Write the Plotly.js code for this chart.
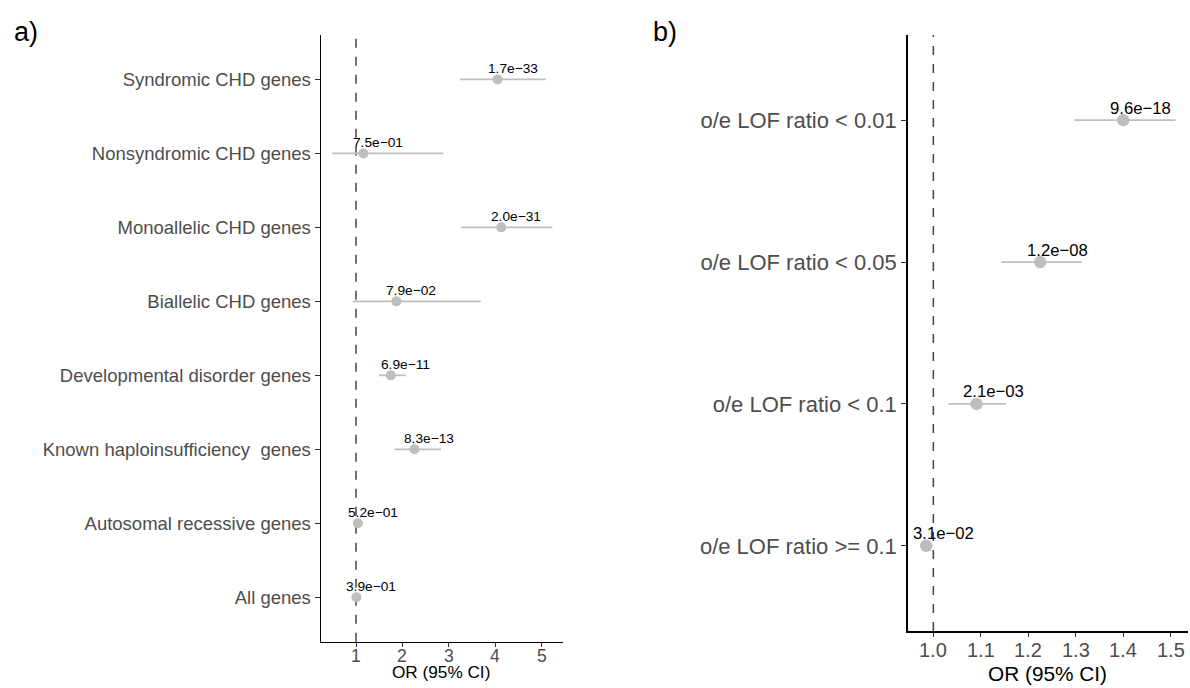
<!DOCTYPE html>
<html>
<head>
<meta charset="utf-8">
<script src="https://cdn.plot.ly/plotly-3.0.1.min.js"></script>
<style>html,body{margin:0;padding:0;background:#fff;}#chart{width:1190px;height:688px;}</style>
</head>
<body>
<div id="chart"></div>
<script>
// Panel a)
const catsA = ["Syndromic CHD genes", "Nonsyndromic CHD genes", "Monoallelic CHD genes", "Biallelic CHD genes",
  "Developmental disorder genes", "Known haploinsufficiency\u00a0 genes", "Autosomal recessive genes", "All genes"];
const orA = [4.05, 1.16, 4.13, 1.87, 1.75, 2.26, 1.04, 1.01];
const loA = [3.24, 0.49, 3.27, 0.93, 1.49, 1.83, 0.96, 0.97];
const hiA = [5.09, 2.88, 5.23, 3.69, 2.07, 2.83, 1.12, 1.05];
const pA = ["1.7e\u221233", "7.5e\u221201", "2.0e\u221231", "7.9e\u221202", "6.9e\u221211", "8.3e\u221213", "5.2e\u221201", "3.9e\u221201"];
const ticksA = [1, 2, 3, 4, 5];

// Panel b)
const catsB = ["o/e LOF ratio < 0.01", "o/e LOF ratio < 0.05", "o/e LOF ratio < 0.1", "o/e LOF ratio >= 0.1"];
const orB = [1.40, 1.225, 1.091, 0.985];
const loB = [1.297, 1.143, 1.032, 0.972];
const hiB = [1.51, 1.313, 1.153, 0.998];
const pB = ["9.6e\u221218", "1.2e\u221208", "2.1e\u221203", "3.1e\u221202"];
const ticksB = [1.0, 1.1, 1.2, 1.3, 1.4, 1.5];

const xTitle = "OR (95% CI)";

const FONT = "Liberation Sans, Arial, Helvetica, sans-serif";
const PT = "#bebebe";
const H = 688, W = 1190;

function trace(cats, or, lo, hi, xa, ya, size) {
  return {
    type: "scatter", mode: "markers", x: or, y: cats, xaxis: xa, yaxis: ya,
    marker: {color: PT, size: size},
    error_x: {type: "data", symmetric: false,
      array: hi.map((h, i) => h - or[i]), arrayminus: lo.map((l, i) => or[i] - l),
      width: 0, color: PT, thickness: 1.7},
    hoverinfo: "skip", showlegend: false, cliponaxis: false
  };
}

const annotations = [];
pA.forEach((t, i) => annotations.push({x: orA[i], y: i, xref: "x", yref: "y", text: t, showarrow: false,
  xshift: 15, yshift: 11, font: {family: FONT, size: 13.7, color: "#000"}}));
pB.forEach((t, i) => annotations.push({x: orB[i], y: i, xref: "x2", yref: "y2", text: t, showarrow: false,
  xshift: 17, yshift: 12, font: {family: FONT, size: 16.7, color: "#000"}}));
// x tick labels (placed as text at the tick values)
ticksA.forEach(v => annotations.push({x: v, xref: "x", yref: "paper", y: 1 - 656/H, yanchor: "middle",
  text: String(v), showarrow: false, font: {family: FONT, size: 17.5, color: "#4d4d4d"}}));
ticksB.forEach(v => annotations.push({x: v, xref: "x2", yref: "paper", y: 1 - 650/H, yanchor: "middle",
  text: v.toFixed(1), showarrow: false, font: {family: FONT, size: 20, color: "#4d4d4d"}}));
// panel letters
annotations.push({xref: "paper", yref: "paper", x: 12/W, y: 1 - 32/H, xanchor: "left", yanchor: "middle",
  text: "a)", showarrow: false, font: {family: FONT, size: 27, color: "#000"}});
annotations.push({xref: "paper", yref: "paper", x: 651/W, y: 1 - 32/H, xanchor: "left", yanchor: "middle",
  text: "b)", showarrow: false, font: {family: FONT, size: 27, color: "#000"}});
// axis titles
annotations.push({xref: "paper", yref: "paper", x: 441/W, y: 1 - 672/H, xanchor: "center", yanchor: "middle",
  text: xTitle, showarrow: false, font: {family: FONT, size: 17.2, color: "#000"}});
annotations.push({xref: "paper", yref: "paper", x: 1047/W, y: 1 - 673/H, xanchor: "center", yanchor: "middle",
  text: xTitle, showarrow: false, font: {family: FONT, size: 20.8, color: "#000"}});

const axBase = {showgrid: false, zeroline: false, showline: true, linecolor: "#000", linewidth: 1.5,
  ticks: "outside", ticklen: 4, tickwidth: 1, tickcolor: "#333", automargin: false, fixedrange: true};

const layout = {
  width: W, height: H, margin: {l: 0, r: 0, t: 0, b: 0},
  paper_bgcolor: "#fff", plot_bgcolor: "#fff", font: {family: FONT},
  xaxis: Object.assign({}, axBase, {domain: [321/W, 563/W], range: [0.246, 5.46], anchor: "y",
    tickmode: "array", tickvals: ticksA, showticklabels: false}),
  yaxis: Object.assign({}, axBase, {domain: [46.3/H, 653/H], anchor: "x", type: "category",
    categoryorder: "array", categoryarray: catsA, range: [7.6, -0.6], ticklen: 5,
    tickfont: {family: FONT, size: 18.5, color: "#4d4d4d"}}),
  xaxis2: Object.assign({}, axBase, {domain: [907.7/W, 1188.3/W], range: [0.946, 1.537], anchor: "y2",
    tickmode: "array", tickvals: ticksB, showticklabels: false}),
  yaxis2: Object.assign({}, axBase, {domain: [57/H, 653/H], anchor: "x2", type: "category",
    categoryorder: "array", categoryarray: catsB, range: [3.6, -0.6], ticklen: 5,
    tickfont: {family: FONT, size: 22, color: "#4d4d4d"}}),
  shapes: [
    {type: "line", xref: "x", yref: "y domain", x0: 1, x1: 1, y0: 0, y1: 1, line: {color: "#444", width: 1.5, dash: "dash"}, layer: "below"},
    {type: "line", xref: "x2", yref: "y2 domain", x0: 1, x1: 1, y0: 0, y1: 1, line: {color: "#444", width: 1.5, dash: "dash"}, layer: "below"}
  ],
  annotations: annotations
};

Plotly.newPlot("chart", [trace(catsA, orA, loA, hiA, "x", "y", 10), trace(catsB, orB, loB, hiB, "x2", "y2", 12.5)],
  layout, {displayModeBar: false, staticPlot: true});
</script>
</body>
</html>
